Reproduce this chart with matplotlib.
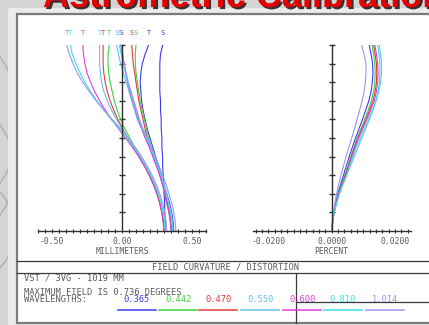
import numpy as np
import matplotlib
matplotlib.use("Agg")
import matplotlib.pyplot as plt
import matplotlib.patheffects as pe
from matplotlib.patches import Rectangle, Arc

# field fraction (0 = axis, 1 = max field)
field = [0.0, 0.05, 0.1, 0.15, 0.2, 0.25, 0.3, 0.35, 0.4, 0.45, 0.5,
         0.55, 0.6, 0.65, 0.7, 0.75, 0.8, 0.85, 0.9, 0.95, 1.0]

wavelengths = ["0.365", "0.442", "0.470", "0.550", "0.600", "0.810", "1.014"]
wl_colors = ["#3c3cf0", "#3cd23c", "#e03c3c", "#64c0f0", "#e03ce0", "#3ce0e0", "#9a96f0"]

# field curvature, millimeters (tangential / sagittal per wavelength)
fc_T = [
    [.37, .365, .355, .34, .32, .30, .28, .26, .24, .22, .20, .18, .165, .15, .14, .135, .13, .135, .145, .165, .19],
    [.30, .295, .285, .27, .25, .225, .195, .16, .125, .09, .055, .02, -.01, -.035, -.055, -.07, -.085, -.095, -.10, -.10, -.09],
    [.30, .295, .285, .27, .25, .225, .195, .16, .12, .08, .04, .005, -.03, -.06, -.085, -.105, -.12, -.13, -.135, -.135, -.135],
    [.31, .305, .295, .28, .26, .235, .205, .17, .13, .09, .045, 0, -.04, -.075, -.105, -.13, -.145, -.155, -.16, -.16, -.16],
    [.30, .295, .285, .27, .25, .225, .195, .16, .12, .075, .025, -.025, -.075, -.12, -.16, -.195, -.225, -.25, -.265, -.275, -.28],
    [.31, .305, .295, .28, .26, .235, .205, .17, .13, .085, .035, -.02, -.075, -.13, -.18, -.225, -.265, -.30, -.33, -.355, -.37],
    [.32, .315, .305, .29, .27, .245, .215, .18, .14, .095, .045, -.01, -.07, -.13, -.185, -.235, -.28, -.32, -.35, -.375, -.395],
]
fc_S = [
    [.31, .31, .305, .305, .30, .30, .295, .29, .29, .285, .285, .28, .28, .275, .275, .27, .27, .27, .27, .275, .29],
    [.35, .345, .335, .32, .305, .29, .27, .25, .23, .21, .19, .175, .16, .145, .13, .12, .11, .10, .095, .095, .10],
    [.355, .35, .34, .325, .31, .29, .27, .25, .225, .20, .18, .165, .15, .135, .12, .11, .10, .09, .08, .075, .07],
    [.36, .355, .345, .33, .315, .295, .275, .25, .225, .20, .17, .14, .11, .09, .07, .05, .03, .01, -.01, -.025, -.04],
    [.35, .345, .335, .32, .305, .29, .27, .245, .22, .195, .165, .14, .115, .095, .075, .055, .04, .025, .015, .005, 0],
    [.365, .36, .35, .335, .32, .30, .28, .255, .23, .205, .175, .145, .12, .10, .08, .06, .04, .025, .01, -.005, -.02],
    [.385, .38, .37, .355, .335, .315, .29, .265, .24, .21, .18, .15, .125, .105, .085, .065, .045, .03, .015, 0, -.01],
]

# distortion, percent
dist = [
    [0, .0002, .0006, .0012, .0019, .0028, .0037, .0046, .0055, .0065, .0075, .0086, .0097, .0107, .0117, .0124, .0128, .0130, .0129, .0124, .0118],
    [0, .0003, .0007, .0014, .0021, .0031, .0041, .0051, .0060, .0070, .0080, .0092, .0104, .0115, .0125, .0132, .0136, .0137, .0136, .0132, .0127],
    [0, .0003, .0007, .0014, .0022, .0032, .0043, .0053, .0062, .0072, .0083, .0095, .0108, .0119, .0130, .0137, .0141, .0142, .0141, .0137, .0132],
    [0, .0003, .0008, .0015, .0024, .0035, .0047, .0059, .0071, .0083, .0095, .0107, .0119, .0130, .0140, .0148, .0154, .0157, .0157, .0154, .0150],
    [0, .0003, .0007, .0015, .0023, .0034, .0045, .0055, .0064, .0074, .0085, .0098, .0111, .0123, .0134, .0141, .0145, .0146, .0145, .0141, .0136],
    [0, .0003, .0008, .0015, .0024, .0035, .0047, .0057, .0067, .0078, .0090, .0103, .0116, .0128, .0139, .0146, .0151, .0152, .0152, .0149, .0145],
    [0, .0002, .0005, .0010, .0015, .0022, .0029, .0037, .0045, .0054, .0063, .0072, .0080, .0088, .0096, .0102, .0106, .0108, .0108, .0102, .0094],
]

W, H = 429, 325
mono = "DejaVu Sans Mono"
tcol = "#5a5a5a"

fig = plt.figure(figsize=(W / 100, H / 100), dpi=100)
fig.patch.set_facecolor("#d4d4d4")

# overlay in pixel coords
bg = fig.add_axes([0, 0, 1, 1])
bg.set_xlim(0, W)
bg.set_ylim(H, 0)
bg.axis("off")

for cx, cy, r in [(-60, 170, 75), (-40, 230, 55), (-90, 120, 110)]:
    bg.add_patch(Arc((cx, cy), 2 * r, 2 * r, color="#a9b6c4", lw=1.2))
bg.add_patch(Rectangle((8, 8), W, H, facecolor="#ebebeb", edgecolor="none"))

bg.text(43, 7, "Astrometric Calibration", color="#e80000", fontsize=26,
        fontweight="bold", family="Liberation Sans", va="baseline", ha="left",
        path_effects=[pe.withSimplePatchShadow(offset=(1.5, -1.5), shadow_rgbFace="#202020", alpha=0.9)])

bg.add_patch(Rectangle((17, 13.5), W, 309.5, facecolor="white", edgecolor="#7a7a7a", lw=1.6))

lk = dict(color="#3a3a3a", lw=0.9)
bg.plot([17, W], [261, 261], **lk)
bg.plot([17, W], [273, 273], **lk)
bg.plot([296, 296], [273, 323], **lk)
bg.plot([296, W], [302, 302], **lk)

fs = 6.3
bg.text(226, 267, "FIELD CURVATURE / DISTORTION", family=mono, fontsize=fs, color=tcol,
        ha="center", va="center")
bg.text(24, 278, "VST / 3VG - 1019 MM", family=mono, fontsize=fs, color=tcol, va="center")
bg.text(24, 292.5, "MAXIMUM FIELD IS 0.736 DEGREES", family=mono, fontsize=fs, color=tcol, va="center")
bg.text(24, 300, "WAVELENGTHS:", family=mono, fontsize=fs, color=tcol, va="center")
wl_x = [137, 178, 218, 260, 302, 343, 385]
for xc, lab, c in zip(wl_x, wavelengths, wl_colors):
    bg.text(xc, 300, lab, family=mono, fontsize=fs, color=c, ha="center", va="center")
    bg.plot([xc - 19, xc + 19], [310, 310], color=c, lw=1.1)

def style_axes(ax, major, minor):
    ax.patch.set_alpha(0)
    ax.spines["left"].set_position(("data", 0))
    ax.spines["top"].set_visible(False)
    ax.spines["right"].set_visible(False)
    for s in ("left", "bottom"):
        ax.spines[s].set_color("#303030")
        ax.spines[s].set_linewidth(1.0)
    ax.set_ylim(0, 1)
    ax.set_yticks(np.arange(0.1, 1.01, 0.1))
    ax.set_yticklabels([])
    ax.tick_params(axis="y", direction="inout", length=5, width=1, color="#303030")
    ax.set_xticks(major)
    ax.set_xticks(minor, minor=True)
    ax.tick_params(axis="x", which="both", direction="inout", length=3.5, width=0.8,
                   color="#303030", labelsize=5.8, labelcolor=tcol, pad=2.5)
    for t in ax.get_xticklabels():
        t.set_family(mono)

# field curvature
ax1 = fig.add_axes([38 / W, (H - 231) / H, 168 / W, 186 / H])
ax1.set_xlim(-0.6, 0.6)
for i, c in enumerate(wl_colors):
    ax1.plot(fc_T[i], field, color=c, lw=0.8)
    ax1.plot(fc_S[i], field, color=c, lw=0.8)
    ax1.text(fc_T[i][-1], 1.065, "T", color=c, fontsize=5, family=mono,
             ha="center", va="center", clip_on=False)
    ax1.text(fc_S[i][-1], 1.065, "S", color=c, fontsize=5, family=mono,
             ha="center", va="center", clip_on=False)
style_axes(ax1, [-0.5, 0, 0.5], np.arange(-0.6, 0.601, 0.05))
ax1.set_xticklabels(["-0.50", "0.00", "0.50"])
ax1.set_xlabel("MILLIMETERS", family=mono, fontsize=5.8, color=tcol, labelpad=0.5)

# distortion
ax2 = fig.add_axes([252.5 / W, (H - 231) / H, 158.5 / W, 186 / H])
ax2.set_xlim(-0.025, 0.025)
for i, c in enumerate(wl_colors):
    ax2.plot(dist[i], field, color=c, lw=0.8)
style_axes(ax2, [-0.02, 0, 0.02], np.arange(-0.024, 0.0241, 0.002))
ax2.set_xticklabels(["-0.0200", "0.0000", "0.0200"])
ax2.set_xlabel("PERCENT", family=mono, fontsize=5.8, color=tcol, labelpad=0.5)

fig.savefig("out.png", dpi=100)
